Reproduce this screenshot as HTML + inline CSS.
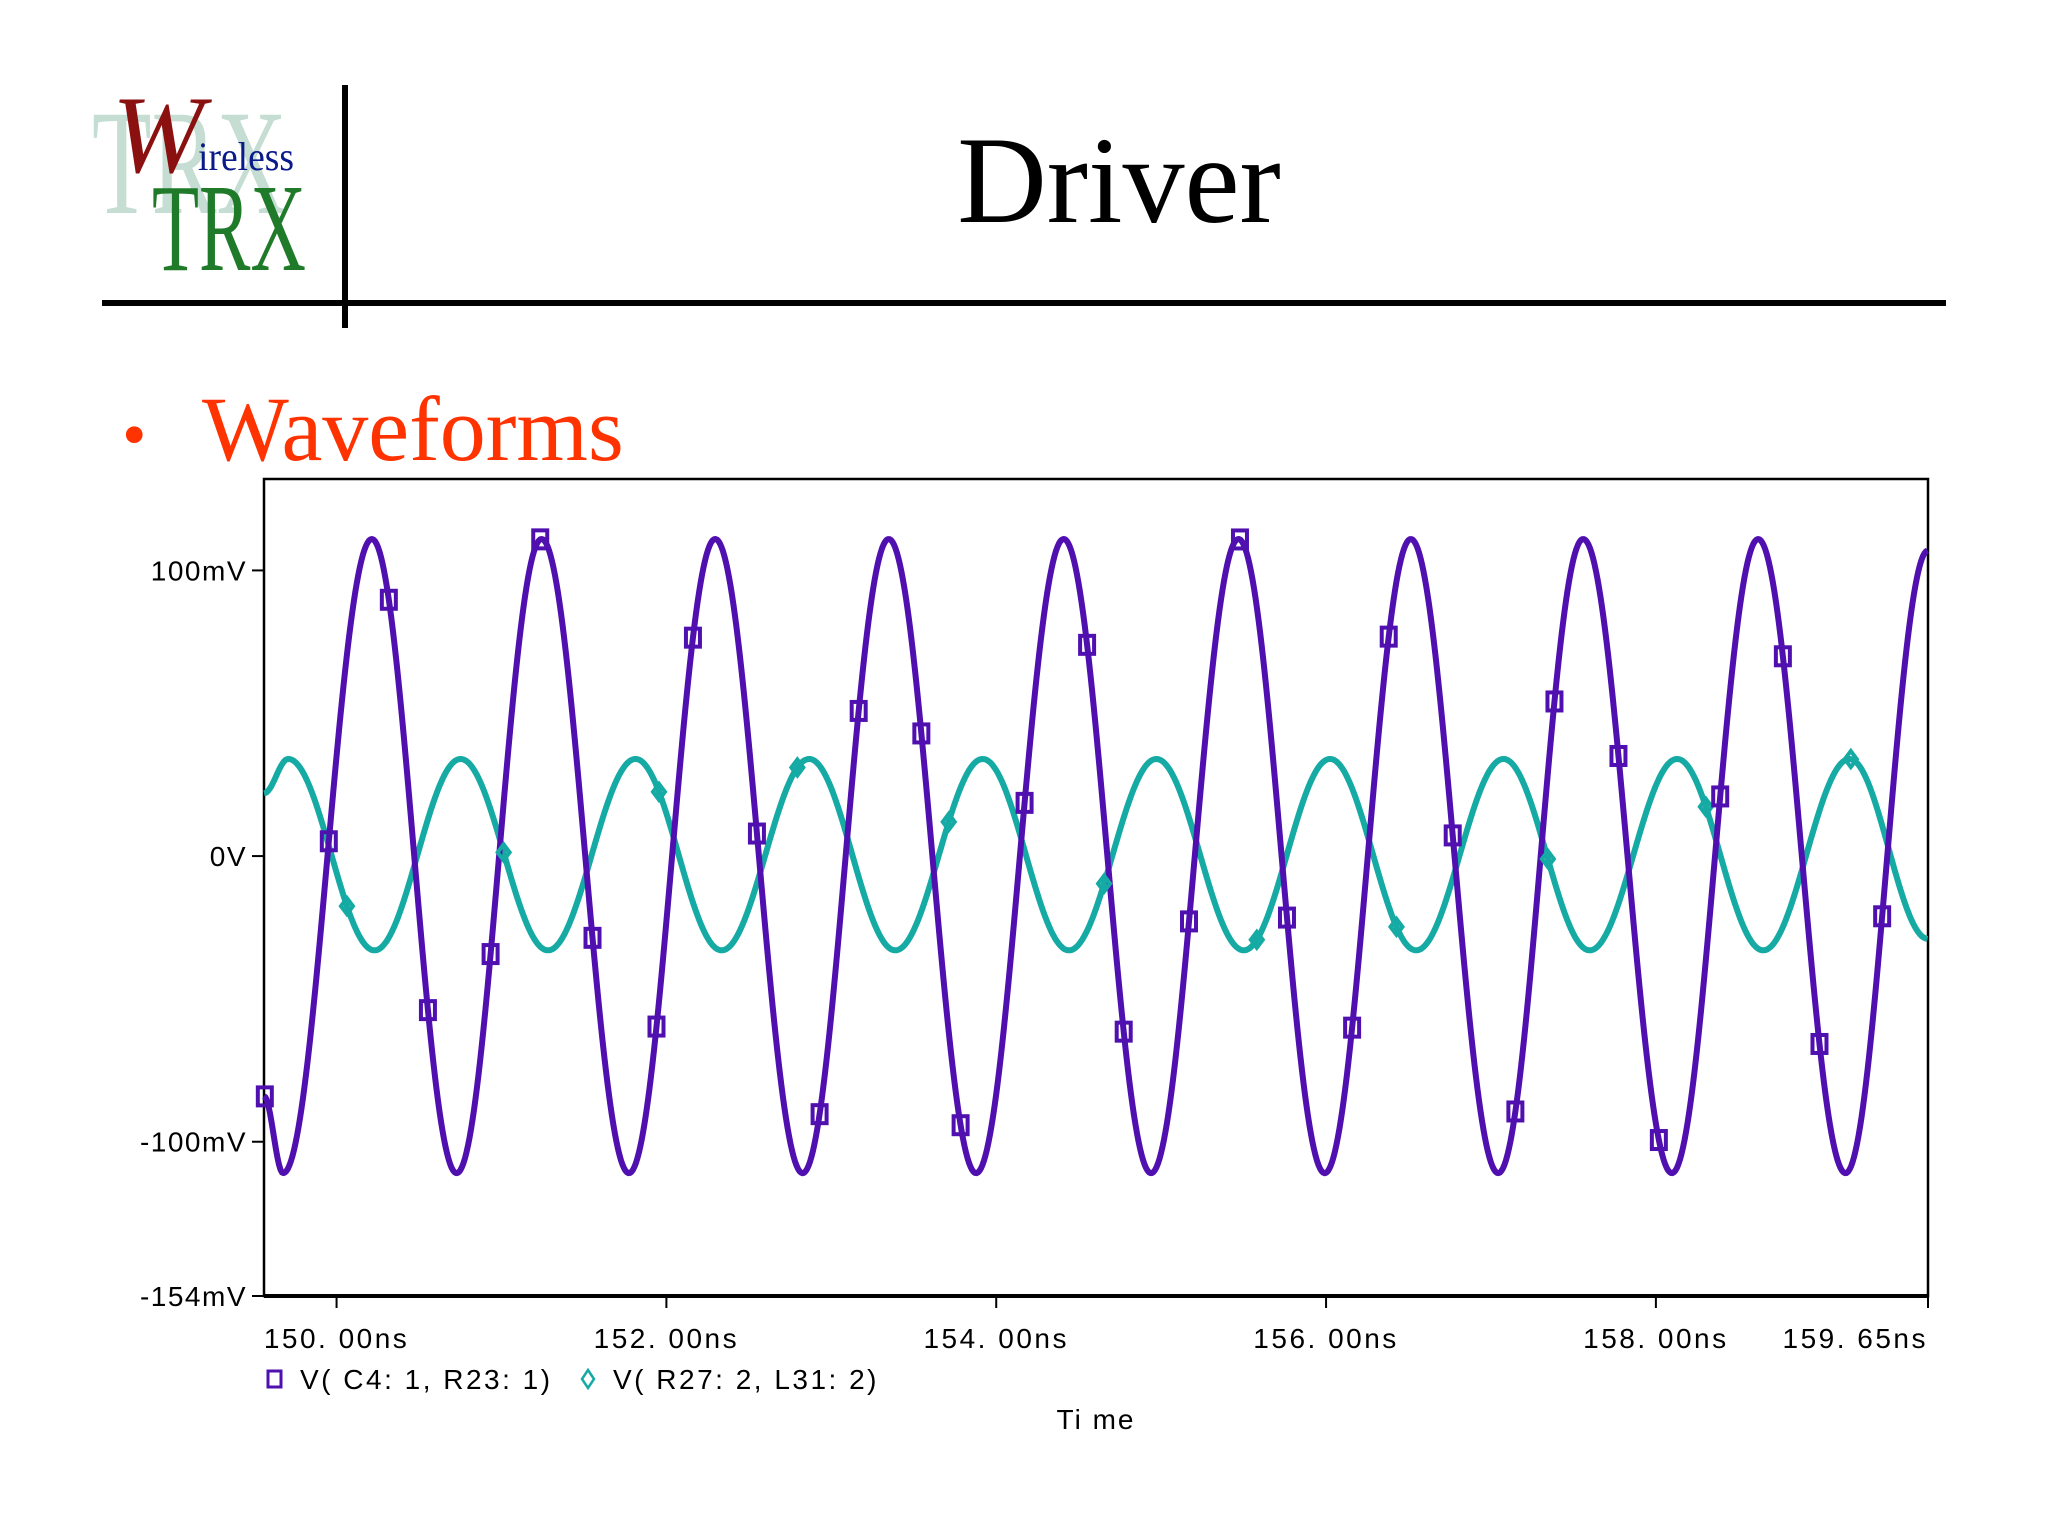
<!DOCTYPE html>
<html><head><meta charset="utf-8"><style>
html,body{margin:0;padding:0;background:#fff;}
svg{display:block;font-family:"Liberation Sans",sans-serif;}
.serif{font-family:"Liberation Serif",serif;}
</style></head><body>
<svg id="chart" width="2048" height="1536" viewBox="0 0 2048 1536" xmlns="http://www.w3.org/2000/svg">
  <g>
    <text class="serif" x="92" y="213" font-size="150" fill="#c5ddd2" textLength="195" lengthAdjust="spacingAndGlyphs">TRX</text>
    <text class="serif" x="112" y="172" font-style="italic" font-size="110" fill="#8b1010">W</text>
    <text class="serif" x="198" y="170" font-size="40" fill="#0a1a8a" textLength="96" lengthAdjust="spacingAndGlyphs">ireless</text>
    <text class="serif" x="152" y="270" font-size="125" fill="#1f7a2a" textLength="154" lengthAdjust="spacingAndGlyphs">TRX</text>
  </g>
  <rect x="342" y="85" width="6" height="243" fill="#000"/>
  <rect x="102" y="300" width="1844" height="6" fill="#000"/>
  <text class="serif" x="1119" y="222" text-anchor="middle" font-size="124" fill="#000">Driver</text>
  <text class="serif" x="122" y="458" font-size="70" fill="#ff3300">•</text>
  <text class="serif" x="202" y="460" font-size="92" fill="#ff3300">Waveforms</text>
  <g id="plot"></g>
</svg>
<script>
const xTicks = [150, 152, 154, 156, 158, 159.65];
const xTickLabels = ["150. 00ns","152. 00ns","154. 00ns","156. 00ns","158. 00ns","159. 65ns"];
const yTicks = [100, 0, -100, -154];
const yTickLabels = ["100mV","0V","-100mV","-154mV"];
const v1Times = [149.56,149.676,150.214,150.728,151.243,151.773,152.296,152.826,153.348,153.878,154.409,154.939,155.469,155.992,156.514,157.044,157.559,158.097,158.620,159.150,159.65];
const v1Values = [-84,-111,111,-111,111,-111,111,-111,111,-111,111,-111,111,-111,111,-111,111,-111,111,-111,107];
const v2Times = [149.56,149.707,150.230,150.752,151.282,151.813,152.335,152.866,153.388,153.918,154.441,154.971,155.501,156.024,156.546,157.076,157.599,158.129,158.651,159.174,159.65];
const v2Values = [22,34,-33,34,-33,34,-33,34,-33,34,-33,34,-33,34,-33,34,-33,34,-33,34,-29];
const v1MarkerTimes = [149.565,149.953,150.317,150.554,150.934,151.235,151.552,151.940,152.161,152.549,152.929,153.166,153.546,153.784,154.172,154.551,154.773,155.169,155.478,155.763,156.158,156.380,156.768,157.148,157.385,157.773,158.018,158.390,158.770,158.992,159.372];
const v2MarkerTimes = [150.063,151.013,151.955,152.794,153.712,154.654,155.580,156.427,157.345,158.303,159.182];

const NS="http://www.w3.org/2000/svg";
const L=264,R=1928,T=479,B=1296;
const xMin=149.56,xMax=159.65,yMin=-154,yMax=132;
const X=t=>L+(t-xMin)/(xMax-xMin)*(R-L);
const Y=v=>B-(v-yMin)/(yMax-yMin)*(B-T);
const g=document.getElementById('plot');
function mk(tag,attrs){const e=document.createElementNS(NS,tag);for(const k in attrs)e.setAttribute(k,attrs[k]);g.appendChild(e);return e;}
function valAt(ts,vs,t){
  for(let i=0;i<ts.length-1;i++){
    if(t>=ts[i]&&t<=ts[i+1]){const u=(t-ts[i])/(ts[i+1]-ts[i]);return vs[i]+(vs[i+1]-vs[i])*(1-Math.cos(Math.PI*u))/2;}
  }
  return vs[vs.length-1];
}
function path(ts,vs){
  let d='';
  for(let px=L;px<=R;px+=1.5){const t=xMin+(px-L)/(R-L)*(xMax-xMin);d+=(d?'L':'M')+px.toFixed(1)+','+Y(valAt(ts,vs,t)).toFixed(1);}
  return d;
}
let e;
e=mk('rect',{x:L,y:T,width:R-L,height:B-T,fill:'#fff',stroke:'#000','stroke-width':2.5});


e=mk('line',{x1:L,y1:B,x2:R,y2:B,stroke:'#000','stroke-width':4});


xTicks.forEach((t,i)=>{
  const l=mk('line',{x1:X(t),y1:B,x2:X(t),y2:B+12,stroke:'#000','stroke-width':2});
  
  
  const last=i===xTicks.length-1;
  const tx=mk('text',{x:last?R:X(t),y:1348,'text-anchor':last?'end':'middle','font-size':28,'letter-spacing':2.5,fill:'#000'});
  tx.textContent=xTickLabels[i];
  
  
});
yTicks.forEach((v,i)=>{
  const l=mk('line',{x1:L-12,y1:Y(v),x2:L,y2:Y(v),stroke:'#000','stroke-width':2});
  
  
  const tx=mk('text',{x:L-17,y:Y(v)+10,'text-anchor':'end','font-size':28,'letter-spacing':1.5,fill:'#000'});
  tx.textContent=yTickLabels[i];
  
  
});
const c1='#5010b0',c2='#16aaa4';
e=mk('path',{d:path(v2Times,v2Values),fill:'none',stroke:c2,'stroke-width':6,'stroke-linejoin':'round'});


e=mk('path',{d:path(v1Times,v1Values),fill:'none',stroke:c1,'stroke-width':6,'stroke-linejoin':'round'});


v2MarkerTimes.forEach(t=>{
  const x=X(t),y=Y(valAt(v2Times,v2Values,t));
  const m=mk('path',{d:`M${x},${y-8}L${x+6},${y}L${x},${y+8}L${x-6},${y}Z`,fill:'none',stroke:c2,'stroke-width':4});
  
  
});
v1MarkerTimes.forEach(t=>{
  const x=X(t),y=Y(valAt(v1Times,v1Values,t));
  const m=mk('rect',{x:x-7,y:y-9,width:14,height:18,fill:'none',stroke:c1,'stroke-width':4});
  
  
});
e=mk('rect',{x:268,y:1371,width:13,height:16,fill:'none',stroke:c1,'stroke-width':3});


e=mk('text',{x:300,y:1389,'font-size':28,'letter-spacing':2.5,fill:'#000'});
e.textContent='V( C4: 1, R23: 1)';


e=mk('path',{d:'M588,1370L594,1379L588,1388L582,1379Z',fill:'none',stroke:c2,'stroke-width':2.5});


e=mk('text',{x:613,y:1389,'font-size':28,'letter-spacing':2.5,fill:'#000'});
e.textContent='V( R27: 2, L31: 2)';


e=mk('text',{x:1096,y:1429,'text-anchor':'middle','font-size':28,'letter-spacing':2,fill:'#000'});
e.textContent='Ti me';


</script>
</body></html>
